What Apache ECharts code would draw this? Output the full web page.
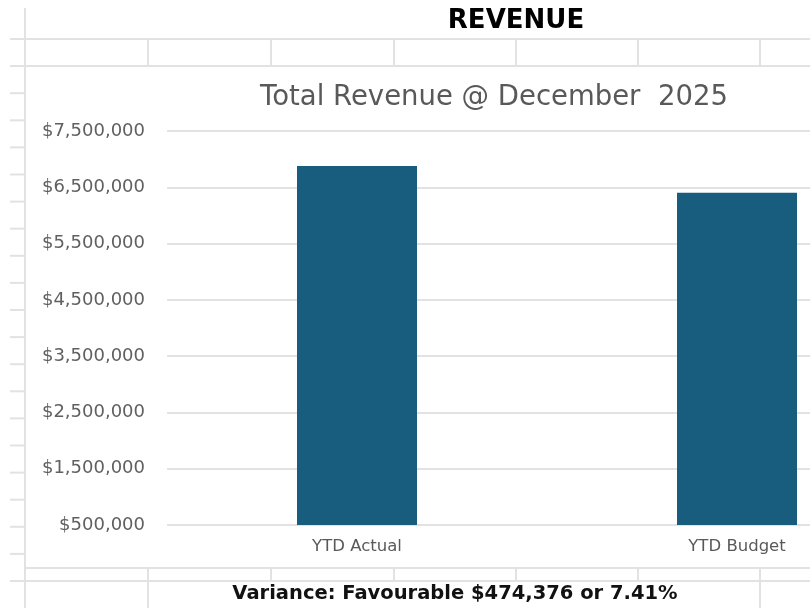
<!DOCTYPE html>
<html>
<head>
<meta charset="utf-8">
<script src="https://cdn.jsdelivr.net/npm/echarts@6/dist/echarts.min.js"></script>
<style>
  html, body { margin: 0; padding: 0; background: #fff; }
  #chart { width: 810px; height: 608px; }
</style>
</head>
<body>
<div id="chart"></div>
<script>
// data
const categories = ['YTD Actual', 'YTD Budget'];
const revenue = [6876211, 6401835];
const yMin = 500000;
const yMax = 7500000;
const yStep = 1000000;
const sheetTitle = 'REVENUE';
const chartTitle = 'Total Revenue @ December  2025';
const varianceText = 'Variance: Favourable $474,376 or 7.41%';

// spreadsheet gridlines around the chart object
const lineColor = '#e2e2e2';
const colX = [148, 271, 394, 516, 638, 760];
const sheet = [];
function seg(x1, y1, x2, y2) {
    sheet.push({
        type: 'line', silent: true, z: -10,
        shape: { x1: x1, y1: y1, x2: x2, y2: y2 },
        style: { stroke: lineColor, lineWidth: 2 }
    });
}
seg(25, 8, 25, 608);
seg(10, 39, 810, 39);
seg(10, 66, 810, 66);
colX.forEach(x => seg(x, 39, x, 66));
for (let y = 93.2; y < 580; y += 27.1) seg(10, y, 25, y);
seg(25, 568, 810, 568);
seg(10, 581, 810, 581);
colX.forEach(x => seg(x, 568, x, 581));
seg(148, 581, 148, 608);
seg(760, 581, 760, 608);

const chart = echarts.init(document.getElementById('chart'));

const option = {
    backgroundColor: '#fff',
    animation: false,
    title: {
        text: chartTitle,
        left: 489,
        textAlign: 'center',
        top: 79,
        textStyle: {
            fontFamily: 'DejaVu Sans',
            fontSize: 27.5,
            fontWeight: 'normal',
            color: '#595959'
        }
    },
    grid: {
        left: 167,
        top: 131,
        width: 760,
        height: 394,
        containLabel: false,
        outerBoundsMode: 'none'
    },
    xAxis: {
        type: 'category',
        data: categories,
        axisLine: { show: false },
        axisTick: { show: false },
        axisLabel: {
            margin: 13,
            fontFamily: 'DejaVu Sans',
            fontSize: 16.5,
            color: '#595959'
        }
    },
    yAxis: {
        type: 'value',
        min: yMin,
        max: yMax,
        interval: yStep,
        axisLine: { show: false },
        axisTick: { show: false },
        splitLine: { lineStyle: { color: '#d9d9d9', width: 1.5 } },
        axisLabel: {
            margin: 22,
            fontFamily: 'DejaVu Sans',
            fontSize: 18,
            color: '#606060'
        }
    },
    series: [
        {
            type: 'bar',
            data: revenue,
            barWidth: 120,
            itemStyle: { color: '#185d7e' }
        }
    ],
    graphic: sheet.concat([
        {
            type: 'text', silent: true,
            x: 516, y: 21,
            style: {
                text: sheetTitle,
                font: 'bold 26px "DejaVu Sans"',
                fill: '#000',
                align: 'center',
                verticalAlign: 'middle'
            }
        },
        {
            type: 'text', silent: true,
            x: 455, y: 594,
            style: {
                text: varianceText,
                font: 'bold 19.5px "DejaVu Sans"',
                fill: '#111',
                align: 'center',
                verticalAlign: 'middle'
            }
        }
    ])
};
option.yAxis.axisLabel.formatter = v => '$' + v.toLocaleString('en-US');
chart.setOption(option);
</script>
</body>
</html>
